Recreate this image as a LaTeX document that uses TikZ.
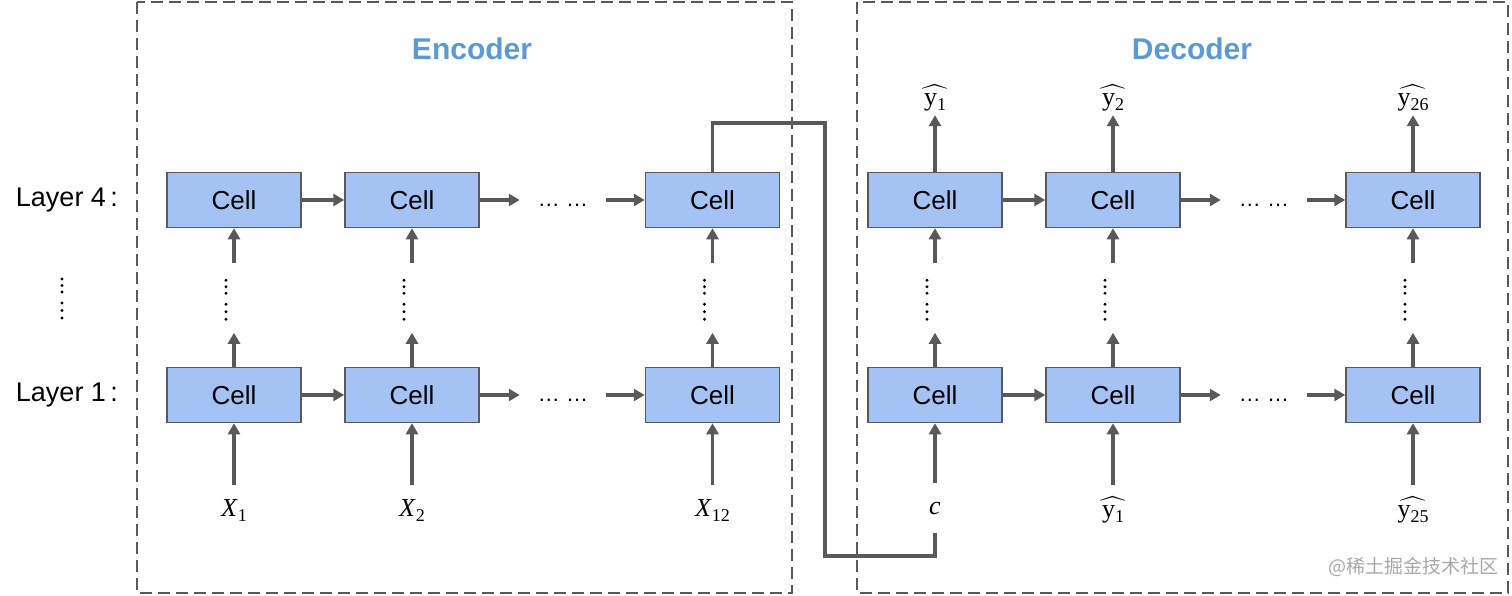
\documentclass[tikz,border=0pt]{standalone}
\usepackage{amsmath}
\usepackage[no-math]{fontspec}
\setmainfont{Liberation Sans}
\newfontfamily\cjkfont{Noto Sans CJK SC}
\newfontfamily\mserif{Liberation Serif}
\newcommand\subtx[1]{\raisebox{-5pt}{\fontsize{18}{20}\selectfont\mserif #1}}
\newcommand\xlab[1]{{\mserif\itshape X}\kern1pt\subtx{#1}}
\newcommand\ylab[1]{$\widehat{\hbox{\kern2pt\mserif y\subtx{#1}\kern2pt}}$}
\usetikzlibrary{arrows.meta}
\definecolor{ag}{HTML}{595959}
\definecolor{cellfill}{HTML}{A4C2F4}
\definecolor{titleblue}{HTML}{5B9BD5}
\definecolor{wm}{HTML}{A8A8A8}
\begin{document}
\begin{tikzpicture}[x=1pt,y=-1pt,
  cellbox/.style={rectangle,draw=ag,line width=1.5pt,fill=cellfill,minimum width=134pt,minimum height=55pt,inner sep=0pt,font=\fontsize{26}{30}\selectfont},
  arr/.style={draw=ag,line width=3.5pt,-{Triangle[width=12pt,length=11pt]}},
  conn/.style={draw=ag,line width=3.5pt},
  frame/.style={draw=ag,line width=2pt,dash pattern=on 12pt off 6pt},
  title/.style={font=\fontsize{30}{34}\selectfont\bfseries,text=titleblue},
  lab/.style={minimum height=50pt,inner sep=0pt,font=\fontsize{26}{30}\selectfont},
  toplab/.style={minimum height=34pt,inner sep=0pt,font=\fontsize{26}{30}\selectfont},
  layerlab/.style={font=\fontsize{27}{30}\selectfont,inner sep=0pt},
  hdots/.style={font=\fontsize{22}{26}\selectfont,inner xsep=18pt,inner ysep=0pt}
]
\useasboundingbox (0,0) rectangle (1512,595);
% frames
\draw[frame] (137,2) rectangle (792,593);
\draw[frame] (857,2) rectangle (1508,593);
\node[title] (enct) at (472,49) {Encoder};
\node[title] (dect) at (1192,49) {Decoder};
% layer labels
\node[layerlab] (l4) at (67,200) {Layer 4\,:};
\node[layerlab] (l1) at (67,395) {Layer 1\,:};
\foreach \yy in {279,285.5,292,303,310.5,318}{\fill (62,\yy) circle (1.6pt);}
% encoder cells
\node[cellbox] (e41) at (234,200) {Cell};
\node[cellbox] (e42) at (412,200) {Cell};
\node[cellbox] (e43) at (712.5,200) {Cell};
\node[cellbox] (e11) at (234,395) {Cell};
\node[cellbox] (e12) at (412,395) {Cell};
\node[cellbox] (e13) at (712.5,395) {Cell};
% decoder cells
\node[cellbox] (d41) at (935,200) {Cell};
\node[cellbox] (d42) at (1113,200) {Cell};
\node[cellbox] (d43) at (1413,200) {Cell};
\node[cellbox] (d11) at (935,395) {Cell};
\node[cellbox] (d12) at (1113,395) {Cell};
\node[cellbox] (d13) at (1413,395) {Cell};
% horizontal dots
\node[hdots] (ed4) at (563,205) {\ldots\ \ldots};
\node[hdots] (ed1) at (563,400) {\ldots\ \ldots};
\node[hdots] (dd4) at (1264,205) {\ldots\ \ldots};
\node[hdots] (dd1) at (1264,400) {\ldots\ \ldots};
% horizontal arrows
\foreach \a/\b/\d/\c in {e41/e42/ed4/e43,e11/e12/ed1/e13,d41/d42/dd4/d43,d11/d12/dd1/d13}{
  \draw[arr] (\a.east) -- (\b.west);
  \draw[arr] (\b.east) -- (\b.east -| \d.west);
  \draw[arr] (\d.east |- \c.west) -- (\c.west);
}
% vertical arrows between layers and dots
\foreach \n/\m in {e11/e41,e12/e42,e13/e43,d11/d41,d12/d42,d13/d43}{
  \draw[arr] (\n.north) -- ++(0,-34);
  \draw[arr] ([yshift=-35pt]\m.south) -- (\m.south);
  \foreach \yy in {52,58.5,65,76,83.5,91}{\fill ([xshift=-8pt,yshift=-\yy pt]\m.south) circle (1.6pt);}
}
% inputs
\node[lab] (x1) at (234,510) {\xlab{1}};
\node[lab] (x2) at (412,510) {\xlab{2}};
\node[lab] (x3) at (712.5,510) {\xlab{12}};
\node[lab] (c) at (935,508) {{\mserif\itshape c}};
\node[lab] (yb2) at (1113,510) {\ylab{1}};
\node[lab] (yb3) at (1413,510) {\ylab{25}};
\draw[arr] (x1.north) -- (e11.south);
\draw[arr] (x2.north) -- (e12.south);
\draw[arr] (x3.north) -- (e13.south);
\draw[arr] (c.north) -- (d11.south);
\draw[arr] (yb2.north) -- (d12.south);
\draw[arr] (yb3.north) -- (d13.south);
% outputs
\node[toplab] (yt1) at (935,98) {\ylab{1}};
\node[toplab] (yt2) at (1113,98) {\ylab{2}};
\node[toplab] (yt3) at (1413,98) {\ylab{26}};
\draw[arr] (d41.north) -- (yt1.south);
\draw[arr] (d42.north) -- (yt2.south);
\draw[arr] (d43.north) -- (yt3.south);
% context connector
\coordinate (cb) at (825,556);
\draw[conn] (e43.north) -- ++(0,-49) -| (cb) -| (c.south);
% watermark
\node[font=\cjkfont\fontsize{19}{22}\selectfont,text=wm,inner sep=0pt] (wmk) at (1413,567) {@稀土掘金技术社区};
\end{tikzpicture}
\end{document}
